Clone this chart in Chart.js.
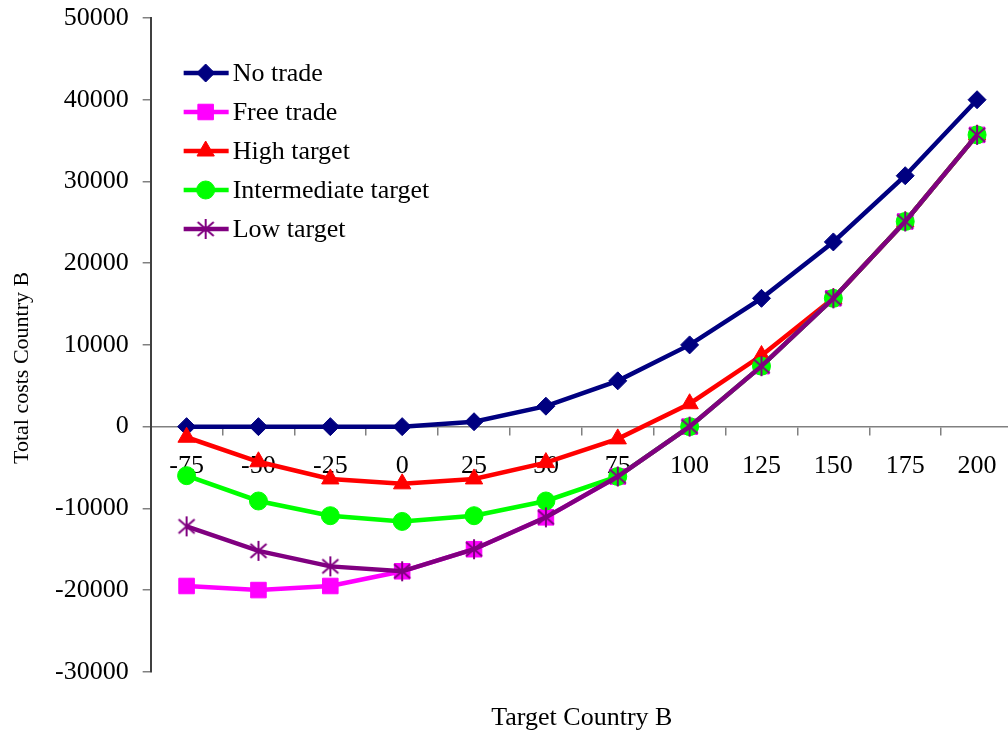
<!DOCTYPE html>
<html>
<head>
<meta charset="utf-8">
<script src="https://cdn.jsdelivr.net/npm/chart.js@4/dist/chart.umd.min.js"></script>
<style>
  html, body { margin: 0; padding: 0; background: #fff; overflow: hidden; }
  #wrap { position: relative; width: 1025px; height: 735px; }
</style>
</head>
<body>
<div id="wrap"><canvas id="costChart"></canvas></div>
<script>
const targets = ['-75', '-50', '-25', '0', '25', '50', '75', '100', '125', '150', '175', '200'];
const noTrade = [0, 0, 0, 0, 600, 2500, 5600, 10000, 15700, 22600, 30700, 40000];
const freeTrade = [-19500, -20000, -19500, -17700, -15000, -11100, -6100, 0, 7400, 15700, 25100, 35700];
const highTarget = [-1300, -4300, -6400, -7000, -6400, -4400, -1500, 2800, 8700, 15700, 25100, 35700];
const intermediateTarget = [-6000, -9100, -10900, -11600, -10900, -9100, -6100, 0, 7400, 15700, 25100, 35700];
const lowTarget = [-12200, -15200, -17100, -17700, -15000, -11100, -6100, 0, 7400, 15700, 25100, 35700];
const yTicks = [-30000, -20000, -10000, 0, 10000, 20000, 30000, 40000, 50000];

const serif = "'Liberation Serif', 'Times New Roman', serif";

// six-armed asterisk like the Excel marker
function asterisk(color) {
    const c = document.createElement('canvas');
    c.width = 22; c.height = 22;
    const g = c.getContext('2d');
    g.strokeStyle = color;
    g.lineWidth = 2;
    g.beginPath();
    g.moveTo(11, 1); g.lineTo(11, 21);
    g.moveTo(3, 4); g.lineTo(19, 18);
    g.moveTo(19, 4); g.lineTo(3, 18);
    g.stroke();
    return c;
}

function series(label, data, color, style, radius, order) {
    return {
        label: label,
        data: data,
        borderColor: color,
        backgroundColor: color,
        borderWidth: 4.5,
        pointStyle: style,
        pointRadius: radius,
        pointHoverRadius: radius,
        pointBackgroundColor: color,
        pointBorderColor: color,
        pointBorderWidth: 1,
        tension: 0,
        fill: false,
        order: order
    };
}

// no extra label padding around the plot, layout padding decides it
function noPadding(scale) {
    scale.paddingTop = 0;
    scale.paddingBottom = 0;
    scale.paddingLeft = 0;
    scale.paddingRight = 0;
}

// legend drawn inside the plot, line + marker like the original
const insideLegend = {
    id: 'insideLegend',
    afterDatasetsDraw(chart) {
        const ctx = chart.ctx;
        const area = chart.chartArea;
        ctx.save();
        chart.data.datasets.forEach(function (ds, i) {
            const x0 = area.left + 33;
            const y = area.top + 55 + i * 39;
            ctx.strokeStyle = ds.borderColor;
            ctx.lineWidth = 4.5;
            ctx.beginPath();
            ctx.moveTo(x0, y);
            ctx.lineTo(x0 + 45, y);
            ctx.stroke();
            ctx.fillStyle = ds.pointBackgroundColor;
            ctx.strokeStyle = ds.pointBorderColor;
            ctx.lineWidth = ds.pointBorderWidth;
            Chart.helpers.drawPoint(ctx, {
                pointStyle: ds.pointStyle,
                radius: ds.pointRadius,
                borderWidth: ds.pointBorderWidth,
                rotation: 0
            }, x0 + 22, y);
            ctx.fillStyle = '#000';
            ctx.font = '26px ' + serif;
            ctx.textBaseline = 'middle';
            ctx.textAlign = 'left';
            ctx.fillText(ds.label, x0 + 49, y + 1);
        });
        ctx.restore();
    }
};

// y title sits a bit below the middle in the original
const yTitle = {
    id: 'yTitle',
    afterDraw(chart) {
        const ctx = chart.ctx;
        const area = chart.chartArea;
        ctx.save();
        ctx.translate(22, (area.top + area.bottom) / 2 + 23);
        ctx.rotate(-Math.PI / 2);
        ctx.fillStyle = '#000';
        ctx.font = '22px ' + serif;
        ctx.textAlign = 'center';
        ctx.textBaseline = 'middle';
        ctx.fillText('Total costs Country B', 0, 0);
        ctx.restore();
    }
};

const ctx = document.getElementById('costChart').getContext('2d');
new Chart(ctx, {
    type: 'line',
    data: {
        labels: targets,
        datasets: [
            series('No trade', noTrade, '#000080', 'rectRot', 9, 5),
            series('Free trade', freeTrade, '#FF00FF', 'rect', 11, 4),
            series('High target', highTarget, '#FF0000', 'triangle', 10, 3),
            series('Intermediate target', intermediateTarget, '#00FF00', 'circle', 9, 2),
            series('Low target', lowTarget, '#800080', asterisk('#800080'), 10, 1)
        ]
    },
    options: {
        responsive: true,
        maintainAspectRatio: false,
        animation: false,
        layout: { padding: { left: 41, right: 4, top: 18, bottom: 0 } },
        plugins: {
            legend: { display: false },
            tooltip: { enabled: false }
        },
        scales: {
            x: {
                type: 'category',
                position: { y: 0 },
                offset: true,
                afterFit: noPadding,
                grid: { offset: true, drawOnChartArea: false, tickLength: 8, color: '#808080', lineWidth: 1.5 },
                border: { color: '#808080', width: 1.5 },
                ticks: {
                    autoSkip: false,
                    maxRotation: 0,
                    padding: 16,
                    color: '#000',
                    font: { family: serif, size: 26 }
                }
            },
            x2: {
                type: 'category',
                labels: targets,
                position: 'bottom',
                offset: true,
                afterFit: noPadding,
                grid: { display: false },
                border: { display: false },
                ticks: { display: false },
                title: {
                    display: true,
                    text: 'Target Country B',
                    color: '#000',
                    font: { family: serif, size: 26 },
                    padding: { top: 23, bottom: 1 }
                }
            },
            y: {
                min: -30000,
                max: 50000,
                afterFit: noPadding,
                afterBuildTicks: function (axis) {
                    axis.ticks = yTicks.map(function (v) { return { value: v }; });
                },
                grid: { drawOnChartArea: false, tickLength: 8, color: '#808080', lineWidth: 1.5 },
                border: { color: '#404040', width: 2 },
                ticks: {
                    padding: 14,
                    color: '#000',
                    font: { family: serif, size: 26 },
                    callback: function (v) { return String(v); }
                }
            }
        }
    },
    plugins: [insideLegend, yTitle]
});
</script>
</body>
</html>
